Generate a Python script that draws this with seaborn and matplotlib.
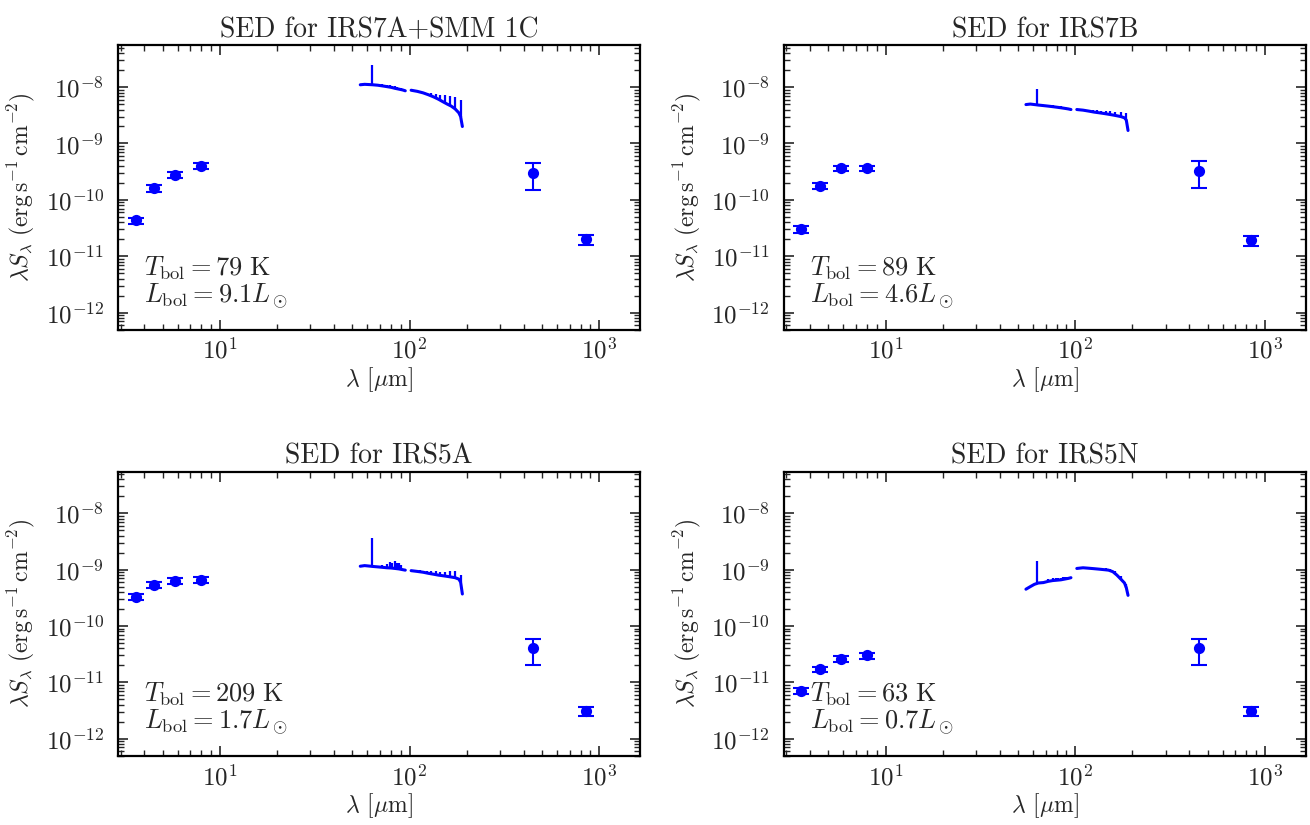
import numpy as np
import pandas as pd
import matplotlib
matplotlib.use("Agg")
import matplotlib.pyplot as plt
import seaborn as sns

# photometry bands (micron)
irac_wl = [3.6, 4.5, 5.8, 8.0]
submm_wl = [450.0, 850.0]

# spectrum wavelength grids (two PACS segments)
seg1_wl = [55, 58, 61, 64, 68, 72, 76, 80, 84, 88, 92, 95]
seg2_wl = [102, 110, 118, 126, 134, 142, 150, 158, 166, 174, 182, 186, 190]
line1_wl = [63.2, 72, 76, 79, 81, 84, 86, 88, 90]
line2_wl = [108.8, 113.5, 118.6, 124.2, 130.4, 137.2, 144.8, 153.3, 162.8, 173.6, 186.0]

names = ["IRS7A+SMM 1C", "IRS7B", "IRS5A", "IRS5N"]
tbol = [79, 89, 209, 63]
lbol = [9.1, 4.6, 1.7, 0.7]

x_ticks = [10, 100, 1000]
y_ticks = [1e-12, 1e-11, 1e-10, 1e-9, 1e-8]

irac_flux = {
    "IRS7A+SMM 1C": [4.3e-11, 1.6e-10, 2.8e-10, 4.0e-10],
    "IRS7B": [3.0e-11, 1.75e-10, 3.6e-10, 3.6e-10],
    "IRS5A": [3.3e-10, 5.3e-10, 6.4e-10, 6.6e-10],
    "IRS5N": [7.0e-12, 1.7e-11, 2.6e-11, 3.0e-11],
}
irac_err = {
    "IRS7A+SMM 1C": [0.5e-11, 2.0e-11, 3.5e-11, 5.0e-11],
    "IRS7B": [0.4e-11, 2.0e-11, 4.0e-11, 4.0e-11],
    "IRS5A": [4.0e-11, 6.5e-11, 8.0e-11, 8.0e-11],
    "IRS5N": [0.9e-12, 2.0e-12, 3.0e-12, 3.5e-12],
}
submm_flux = {
    "IRS7A+SMM 1C": [3.0e-10, 2.0e-11],
    "IRS7B": [3.3e-10, 1.9e-11],
    "IRS5A": [4.0e-11, 3.1e-12],
    "IRS5N": [4.0e-11, 3.1e-12],
}
submm_err = {
    "IRS7A+SMM 1C": [1.5e-10, 0.4e-11],
    "IRS7B": [1.65e-10, 0.4e-11],
    "IRS5A": [2.0e-11, 0.6e-12],
    "IRS5N": [2.0e-11, 0.6e-12],
}

seg1_flux = {
    "IRS7A+SMM 1C": [1.10e-8, 1.12e-8, 1.11e-8, 1.10e-8, 1.08e-8, 1.05e-8, 1.02e-8, 0.99e-8, 0.95e-8, 0.92e-8, 0.89e-8, 0.86e-8],
    "IRS7B": [4.9e-9, 5.0e-9, 4.9e-9, 4.8e-9, 4.7e-9, 4.6e-9, 4.5e-9, 4.4e-9, 4.3e-9, 4.2e-9, 4.1e-9, 4.0e-9],
    "IRS5A": [1.15e-9, 1.18e-9, 1.16e-9, 1.14e-9, 1.12e-9, 1.10e-9, 1.08e-9, 1.07e-9, 1.05e-9, 1.03e-9, 1.0e-9, 0.98e-9],
    "IRS5N": [4.5e-10, 5.0e-10, 5.5e-10, 5.8e-10, 5.9e-10, 6.2e-10, 6.4e-10, 6.5e-10, 6.6e-10, 6.8e-10, 7.0e-10, 7.2e-10],
}
seg2_flux = {
    "IRS7A+SMM 1C": [8.8e-9, 8.4e-9, 7.9e-9, 7.3e-9, 6.7e-9, 6.1e-9, 5.5e-9, 5.0e-9, 4.6e-9, 4.1e-9, 3.5e-9, 3.0e-9, 2.0e-9],
    "IRS7B": [4.0e-9, 3.9e-9, 3.75e-9, 3.6e-9, 3.5e-9, 3.4e-9, 3.3e-9, 3.2e-9, 3.1e-9, 3.0e-9, 2.85e-9, 2.6e-9, 1.7e-9],
    "IRS5A": [9.6e-10, 9.3e-10, 9.0e-10, 8.6e-10, 8.3e-10, 8.0e-10, 7.8e-10, 7.6e-10, 7.4e-10, 7.2e-10, 6.8e-10, 6.0e-10, 3.7e-10],
    "IRS5N": [1.05e-9, 1.08e-9, 1.06e-9, 1.04e-9, 1.02e-9, 1.0e-9, 0.98e-9, 0.92e-9, 0.80e-9, 0.68e-9, 0.58e-9, 0.48e-9, 0.35e-9],
}
line1_base = {
    "IRS7A+SMM 1C": [1.10e-8, 1.05e-8, 1.02e-8, 1.0e-8, 0.98e-8, 0.95e-8, 0.94e-8, 0.92e-8, 0.91e-8],
    "IRS7B": [4.8e-9, 4.6e-9, 4.5e-9, 4.45e-9, 4.4e-9, 4.3e-9, 4.25e-9, 4.2e-9, 4.15e-9],
    "IRS5A": [1.14e-9, 1.10e-9, 1.08e-9, 1.07e-9, 1.06e-9, 1.05e-9, 1.04e-9, 1.03e-9, 1.02e-9],
    "IRS5N": [5.8e-10, 6.2e-10, 6.4e-10, 6.5e-10, 6.5e-10, 6.6e-10, 6.7e-10, 6.8e-10, 6.9e-10],
}
line1_peak = {
    "IRS7A+SMM 1C": [2.5e-8, 1.12e-8, 1.09e-8, 1.08e-8, 1.06e-8, 1.03e-8, 1.01e-8, 0.98e-8, 0.96e-8],
    "IRS7B": [9.2e-9, 4.9e-9, 4.8e-9, 4.7e-9, 4.65e-9, 4.6e-9, 4.5e-9, 4.4e-9, 4.3e-9],
    "IRS5A": [3.6e-9, 1.22e-9, 1.25e-9, 1.35e-9, 1.3e-9, 1.4e-9, 1.3e-9, 1.3e-9, 1.2e-9],
    "IRS5N": [1.45e-9, 6.9e-10, 7.1e-10, 7.0e-10, 7.2e-10, 7.2e-10, 7.3e-10, 7.3e-10, 7.4e-10],
}
line2_base = {
    "IRS7A+SMM 1C": [8.45e-9, 8.1e-9, 7.9e-9, 7.45e-9, 7.0e-9, 6.45e-9, 5.9e-9, 5.3e-9, 4.8e-9, 4.1e-9, 3.0e-9],
    "IRS7B": [3.9e-9, 3.8e-9, 3.75e-9, 3.6e-9, 3.5e-9, 3.45e-9, 3.35e-9, 3.25e-9, 3.15e-9, 3.0e-9, 2.6e-9],
    "IRS5A": [9.3e-10, 9.1e-10, 9.0e-10, 8.6e-10, 8.4e-10, 8.2e-10, 8.0e-10, 7.7e-10, 7.5e-10, 7.2e-10, 6.0e-10],
    "IRS5N": [1.08e-9, 1.07e-9, 1.06e-9, 1.04e-9, 1.03e-9, 1.01e-9, 1.0e-9, 0.95e-9, 0.85e-9, 0.68e-9, 0.48e-9],
}
line2_peak = {
    "IRS7A+SMM 1C": [8.7e-9, 8.4e-9, 8.2e-9, 8.0e-9, 7.8e-9, 7.6e-9, 7.3e-9, 7.1e-9, 6.9e-9, 6.6e-9, 6.0e-9],
    "IRS7B": [4.0e-9, 3.95e-9, 3.9e-9, 3.9e-9, 3.85e-9, 3.8e-9, 3.75e-9, 3.7e-9, 3.65e-9, 3.6e-9, 3.5e-9],
    "IRS5A": [9.8e-10, 9.7e-10, 9.6e-10, 9.5e-10, 9.4e-10, 9.3e-10, 9.2e-10, 9.2e-10, 9.3e-10, 9.6e-10, 8.2e-10],
    "IRS5N": [1.1e-9, 1.09e-9, 1.08e-9, 1.07e-9, 1.06e-9, 1.05e-9, 1.05e-9, 1.02e-9, 0.94e-9, 0.76e-9, 0.55e-9],
}

sns.set_style("ticks")
plt.rcParams.update({
    "font.family": ["cmr10", "DejaVu Serif"],
    "mathtext.fontset": "cm",
    "axes.formatter.use_mathtext": True,
    "axes.linewidth": 1.6,
    "axes.edgecolor": "black",
    "xtick.direction": "in",
    "ytick.direction": "in",
    "xtick.top": True,
    "ytick.right": True,
    "xtick.major.size": 7,
    "ytick.major.size": 7,
    "xtick.minor.size": 4,
    "ytick.minor.size": 4,
    "xtick.major.width": 1.2,
    "ytick.major.width": 1.2,
    "xtick.minor.width": 1.0,
    "ytick.minor.width": 1.0,
    "xtick.labelsize": 18,
    "ytick.labelsize": 18,
    "xtick.major.pad": 6,
    "ytick.major.pad": 10,
})

BLUE = "#0000ff"

fig, axes = plt.subplots(2, 2, figsize=(13.1, 8.25), dpi=100)
fig.subplots_adjust(left=0.090, right=0.997, top=0.945, bottom=0.084,
                    wspace=0.274, hspace=0.50)

for ax, name, tb, lb in zip(axes.flat, names, tbol, lbol):
    ax.set_xscale("log")
    ax.set_yscale("log")

    # spectra: continuum segments plus line features
    for wl, fl in [(seg1_wl, seg1_flux[name]), (seg2_wl, seg2_flux[name])]:
        seg = pd.DataFrame({"wl": wl, "flux": fl})
        sns.lineplot(data=seg, x="wl", y="flux", ax=ax, color=BLUE, lw=2.2,
                     sort=False, estimator=None, dashes=False)
    ax.vlines(line1_wl, line1_base[name], line1_peak[name], color=BLUE, lw=1.6)
    ax.vlines(line2_wl, line2_base[name], line2_peak[name], color=BLUE, lw=1.6)

    # photometry
    phot_wl = irac_wl + submm_wl
    phot_fl = irac_flux[name] + submm_flux[name]
    phot_err = irac_err[name] + submm_err[name]
    ax.errorbar(phot_wl, phot_fl, yerr=phot_err, fmt="none", ecolor=BLUE,
                elinewidth=1.5, capsize=6, capthick=1.5)
    sns.scatterplot(x=phot_wl, y=phot_fl, ax=ax, color=BLUE, s=65,
                    edgecolor=BLUE, linewidth=0, zorder=3)

    ax.set_xlim(2.9, 1650)
    ax.set_ylim(5e-13, 5.5e-8)
    ax.set_xticks(x_ticks)
    ax.set_yticks(y_ticks)
    ax.set_title(f"SED for {name}", fontsize=20, pad=6)
    ax.set_xlabel(r"$\lambda$ [$\mu$m]", fontsize=17, labelpad=1)
    ax.set_ylabel(r"$\lambda S_\lambda\ (\mathrm{erg\,s^{-1}\,cm^{-2}})$", fontsize=17,
                  labelpad=6)
    ax.text(0.05, 0.216, rf"$T_\mathrm{{bol}} = {tb}\ \mathrm{{K}}$", transform=ax.transAxes,
            fontsize=19, va="center", ha="left")
    ax.text(0.05, 0.118, rf"$L_\mathrm{{bol}} = {lb}L_\odot$", transform=ax.transAxes,
            fontsize=19, va="center", ha="left")
    for sp in ax.spines.values():
        sp.set_visible(True)

fig.savefig("out.png", dpi=100)
